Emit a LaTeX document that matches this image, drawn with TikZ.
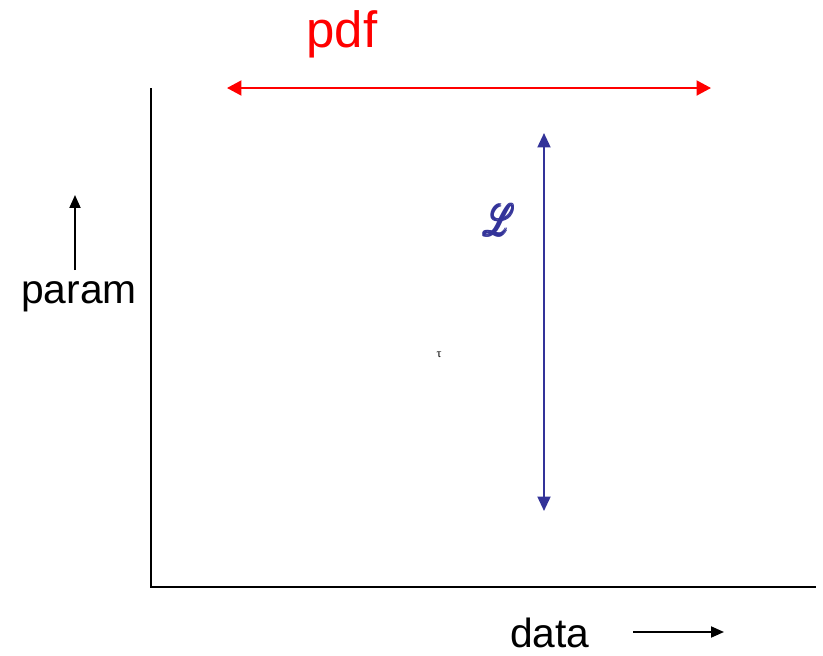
\documentclass[tikz,border=0pt]{standalone}
\usepackage{amsmath}
\usepackage{fontspec}
\usepackage{mathrsfs}
\usepackage{xcolor}
\setmainfont{Liberation Sans}
\newfontfamily\taufont{Liberation Serif}
\usetikzlibrary{positioning,arrows.meta}
\definecolor{pdfred}{HTML}{FF0000}
\definecolor{likeblue}{HTML}{333399}
\newcommand{\heavyglyph}[1]{%
  \makebox[0pt][l]{#1}\makebox[0pt][l]{\kern1.2pt#1}%
  \makebox[0pt][l]{\raisebox{0.8pt}{#1}}\makebox[0pt][l]{\kern1.2pt\raisebox{0.8pt}{#1}}%
  \kern0.6pt\raisebox{0.4pt}{#1}}
\tikzset{
  axisline/.style={line width=1.1pt,draw=black},
  lbl/.style={font=\fontsize{23.2}{26}\selectfont,inner sep=0pt,anchor=base},
  dirarrow/.style={-{Triangle[length=2.6mm,width=2.2mm]},line width=1.1pt,draw=black},
  pdfarrow/.style={{Triangle[length=2.9mm,width=3.0mm]}-{Triangle[length=2.9mm,width=3.0mm]},
    line width=1.2pt,draw=pdfred},
  likearrow/.style={{Triangle[length=2.9mm,width=2.6mm]}-{Triangle[length=2.9mm,width=2.6mm]},
    line width=1.2pt,draw=likeblue},
}
\begin{document}
\begin{tikzpicture}[x=0.02cm,y=-0.02cm]
  \useasboundingbox (0,0) rectangle (823,656);
  % axes
  \coordinate (top) at (151,88);
  \coordinate (origin) at (151,587);
  \coordinate (right) at (816,587);
  \draw[axisline] (top)--(origin)--(right);
  % pdf range
  \coordinate (pdfl) at (227,88);
  \coordinate (pdfr) at (711,88);
  \draw[pdfarrow] (pdfl)--(pdfr);
  \node[lbl,text=pdfred,font=\fontsize{29}{32}\selectfont] (pdf) at (342,47) {pdf};
  % likelihood range
  \coordinate (lhtop) at (544,133);
  \coordinate (lhbot) at (544,511);
  \draw[likearrow] (lhbot)--(lhtop);
  \node[inner sep=0pt,text=likeblue,font=\fontsize{25}{28}\selectfont] (lh) at (498,220)
    {\scalebox{0.68}[1]{\heavyglyph{$\mathscr{L}$}}};
  \node[inner sep=0pt,font=\taufont\fontsize{7}{8}\selectfont] (tau) at (439,355) {τ};
  % axis labels
  \node[lbl] (param) at (79,303) {param};
  \coordinate (pbase) at (75,270);
  \coordinate (pup) at (75,195);
  \draw[dirarrow] (pbase)--(pup);
  \node[lbl] (data) at (550,647) {data};
  \coordinate (dleft) at (633,632);
  \coordinate (dright) at (724,632);
  \draw[dirarrow] (dleft)--(dright);
\end{tikzpicture}
\end{document}
